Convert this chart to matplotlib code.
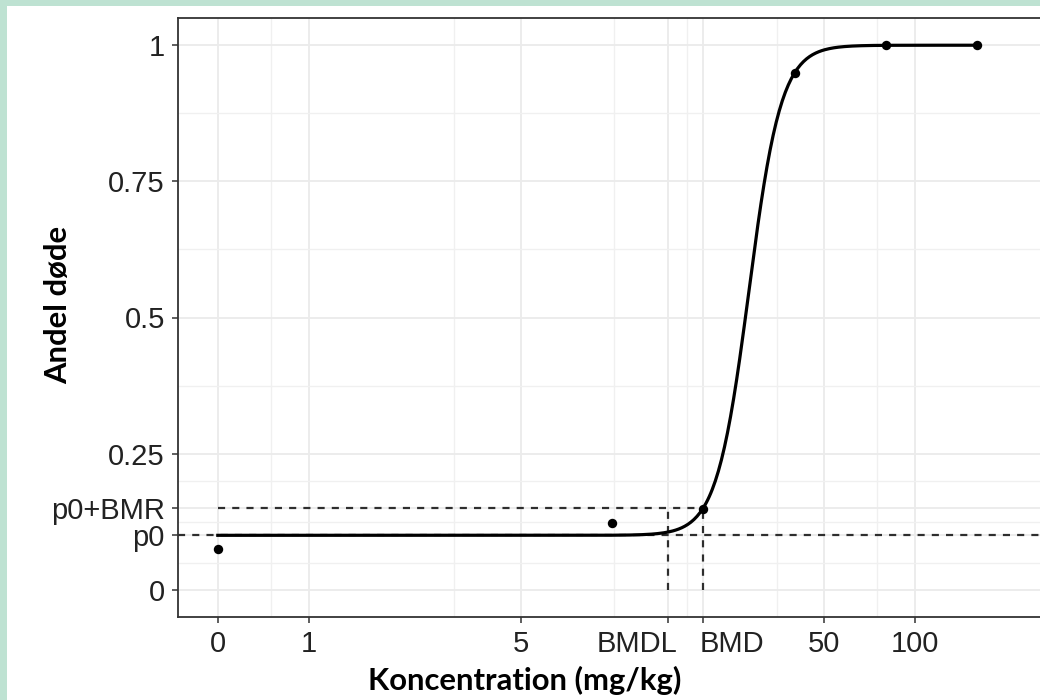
import numpy as np
import matplotlib
matplotlib.use("Agg")
import matplotlib.pyplot as plt
import matplotlib.transforms as mtransforms
from matplotlib.patches import Rectangle
from matplotlib.ticker import FixedLocator, NullFormatter

# observerede andele døde pr. dosis (dosis 0 vises ved 0.5 på log-aksen)
dose = [0.5, 10, 20, 40, 80, 160]
andel = [0.074, 0.122, 0.149, 0.949, 1.0, 1.0]

# tilpasset log-logistisk model + benchmark dosis
p0 = 0.10
bmr = 0.05
slope = 8.13
ed50 = 28.3
bmd = 20.0
bmdl = 15.3

x_ticks = [0.5, 1, 5, bmdl, bmd, 50, 100]
x_labels = ["0", "1", "5", "BMDL", "BMD", "50", "100"]
y_ticks = [0, p0, p0 + bmr, 0.25, 0.5, 0.75, 1]
y_labels = ["0", "p0", "p0+BMR", "0.25", "0.5", "0.75", "1"]


def model(x):
    return p0 + (1 - p0) / (1 + np.exp(-slope * (np.log(x) - np.log(ed50))))


x_fit = np.geomspace(min(dose), max(dose), 500)

W, H = 1040, 700
fig = plt.figure(figsize=(W / 100, H / 100), dpi=100, facecolor="#bee2d2")
fig.add_artist(Rectangle((7 / W, 0), 1, 1 - 6 / H, transform=fig.transFigure,
                         facecolor="white", edgecolor="none", zorder=-1))

ax = fig.add_axes([178 / W, 1 - 617 / H, (1097 - 178) / W, (617 - 18) / H])
ax.set_xscale("log")
ax.set_xlim(10 ** -0.4323, 10 ** 2.6)
ax.set_ylim(-0.05, 1.05)

dash = dict(color="#2e2e2e", lw=1.6, ls=(0, (3.2, 3.2)), zorder=2)
ax.axhline(p0, **dash)
ax.plot([min(dose), bmd], [p0 + bmr, p0 + bmr], **dash)
ax.vlines([bmdl, bmd], 0, p0 + bmr, **dash)

ax.plot(x_fit, model(x_fit), color="black", lw=2.3, zorder=3)
ax.scatter(dose, andel, s=46, color="black", zorder=4, linewidths=0)

ax.xaxis.set_major_locator(FixedLocator(x_ticks))
ax.set_xticklabels(x_labels)
ax.xaxis.set_minor_locator(FixedLocator(
    [(a + b) / 2 for a, b in zip(x_ticks[:-1], x_ticks[1:])]))
ax.xaxis.set_minor_formatter(NullFormatter())
ax.yaxis.set_major_locator(FixedLocator(y_ticks))
ax.set_yticklabels(y_labels)
ax.yaxis.set_minor_locator(FixedLocator(
    [(a + b) / 2 for a, b in zip(y_ticks[:-1], y_ticks[1:])]))

ax.grid(which="major", color="#ebebeb", lw=1.3, zorder=0)
ax.grid(which="minor", color="#f0f0f0", lw=1.0, zorder=0)
ax.set_axisbelow(True)

ax.tick_params(which="major", length=4.5, width=1.1, color="#333333",
               labelsize=21, labelcolor="#222222", pad=5)
ax.tick_params(which="minor", length=0)
for lab in ax.get_xticklabels() + ax.get_yticklabels():
    lab.set_fontfamily("Liberation Sans")

# BMDL/BMD står tæt: skub dem hver sin vej
xlabs = ax.get_xticklabels()
xlabs[3].set_horizontalalignment("right")
xlabs[3].set_transform(xlabs[3].get_transform() +
                       mtransforms.ScaledTranslation(9 / 100, 0, fig.dpi_scale_trans))
xlabs[4].set_horizontalalignment("left")
xlabs[4].set_transform(xlabs[4].get_transform() +
                       mtransforms.ScaledTranslation(-4 / 100, 0, fig.dpi_scale_trans))

for sp in ax.spines.values():
    sp.set_color("#333333")
    sp.set_linewidth(1.3)

fig.text(525 / W, 1 - 690 / H, "Koncentration (mg/kg)", ha="center",
         va="baseline", fontsize=22.3, fontweight="bold", family="Lato")
fig.text(58 / W, 1 - 305 / H, "Andel døde", ha="center", va="center",
         rotation=90, fontsize=22.3, fontweight="bold", family="Lato")

fig.savefig("out.png", dpi=100, facecolor=fig.get_facecolor())
